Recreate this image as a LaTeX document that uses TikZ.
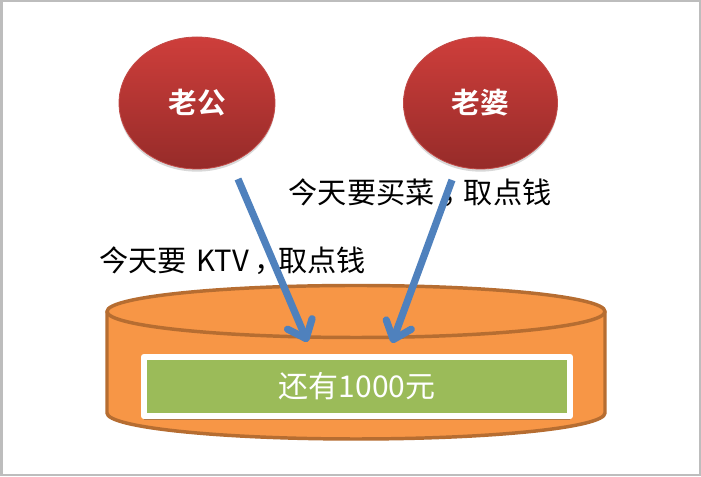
\documentclass[tikz,border=0pt]{standalone}
\usepackage{fontspec}
\setmainfont{Noto Sans CJK SC}[BoldFont={Noto Sans CJK SC Bold}]
\usetikzlibrary{shapes.geometric,arrows.meta,shadows}
\definecolor{framegray}{HTML}{BDBDBD}
\definecolor{redtop}{HTML}{CE3E3B}
\definecolor{redbot}{HTML}{962B29}
\definecolor{rededge}{HTML}{C24A47}
\definecolor{orfill}{HTML}{F79646}
\definecolor{oredge}{HTML}{B66D31}
\definecolor{grfill}{HTML}{9BBB59}
\definecolor{arrowblue}{HTML}{4F81BD}
\tikzset{
  person/.style={ellipse,minimum height=99pt,inner sep=0pt,
    top color=redtop,bottom color=redbot,draw=rededge,line width=.6pt,
    text=white,font=\fontsize{21.5pt}{24pt}\selectfont\bfseries,
    drop shadow={shadow xshift=0pt,shadow yshift=-2pt,opacity=.25,fill=black!60}},
  say/.style={text=black,inner sep=0pt,font=\fontsize{21.9pt}{24pt}\selectfont},
  tube/.style={fill=orfill,draw=oredge,line width=2.6pt,line join=round},
  account/.style={fill=grfill,draw=white,line width=4.5pt,line join=round,minimum width=319.5pt,minimum height=44.6pt,
    inner sep=0pt,text=white,font=\fontsize{22.5pt}{24pt}\selectfont,
    drop shadow={shadow xshift=0pt,shadow yshift=-3.2pt,opacity=.4,fill=black!70}},
  flow/.style={draw=arrowblue,line width=5.4pt,
    -{Straight Barb[length=12pt,width=20pt,line width=5.4pt,round]}}
}
\begin{document}
\begin{tikzpicture}[x=.75pt,y=.75pt]
\useasboundingbox (0,0) rectangle (701,477);
\fill[white] (0,0) rectangle (701,477);
\draw[framegray,line width=1.5pt] (1.5,1.5) rectangle (699.5,475.5);
% cylinder
\path[tube] (107,165.5) -- (107,64) arc[start angle=180,end angle=360,x radius=249,y radius=26] -- (605,165.5);
\path[tube] (356,165.5) ellipse[x radius=249,y radius=26];
% people
\node[person,minimum width=117pt] (husband) at (197,374) {老公};
\node[person,minimum width=115.5pt] (wife) at (480.5,374) {老婆};
% account
\node[account] (money) at (357,90.5) {还有1000元};
% labels
\node[say,anchor=west] (wifesay) at (288.5,284) {今天要买菜\hspace{5.5pt}，\hspace{-5.5pt}取点钱};
\node[say,anchor=west] (husbsay) at (99,216) {今天要\hspace{2.2pt} KTV\hspace{4.5pt}，\hspace{-4.5pt}取点钱};
% flows
\coordinate (h0) at (238,298);
\coordinate (h1) at (307.5,135);
\coordinate (w0) at (452,297);
\coordinate (w1) at (392,134);
\draw[flow] (h0) -- (h1);
\draw[flow] (w0) -- (w1);
\end{tikzpicture}
\end{document}
